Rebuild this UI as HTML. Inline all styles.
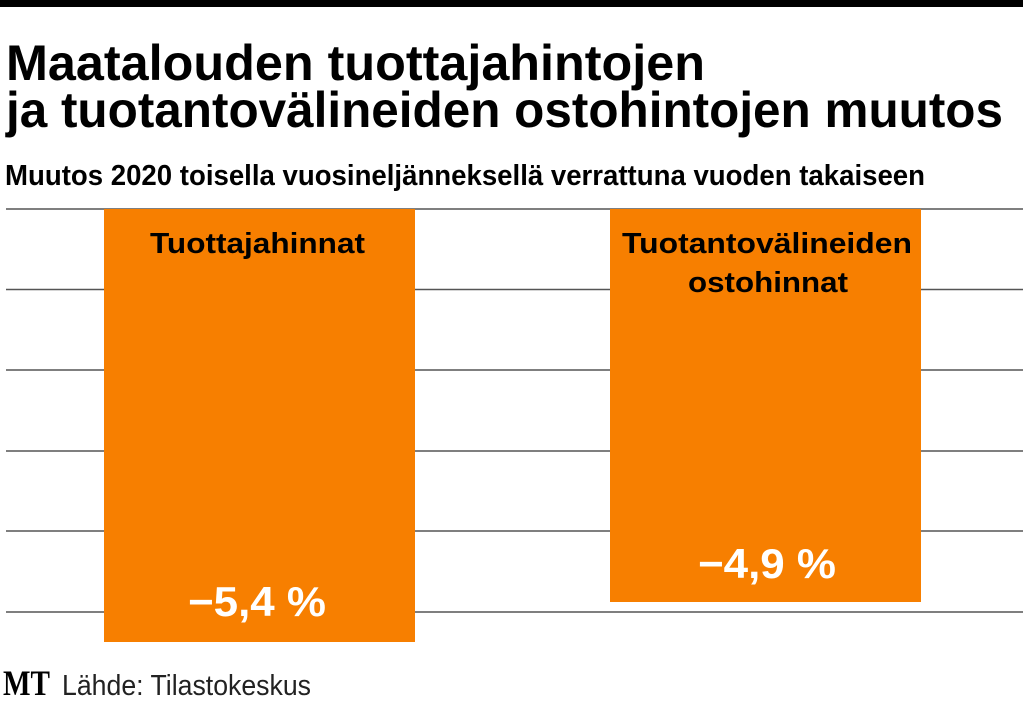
<!DOCTYPE html>
<html><head><meta charset="utf-8"><style>html,body{margin:0;padding:0;background:#fff}svg{display:block}</style></head><body>
<svg width="1023" height="702" xmlns="http://www.w3.org/2000/svg" font-family="Liberation Sans, sans-serif">
<rect x="0" y="0" width="1023" height="7" fill="#000"/>
<text x="6" y="80" font-size="50" font-weight="bold" textLength="699" lengthAdjust="spacingAndGlyphs">Maatalouden tuottajahintojen</text>
<text x="6" y="127" font-size="50" font-weight="bold" textLength="997" lengthAdjust="spacingAndGlyphs">ja tuotantovälineiden ostohintojen muutos</text>
<text x="5" y="185" font-size="29" font-weight="bold" textLength="920" lengthAdjust="spacingAndGlyphs">Muutos 2020 toisella vuosineljänneksellä verrattuna vuoden takaiseen</text>
<g stroke="#555" stroke-width="1.5">
<line x1="6" y1="209" x2="1023" y2="209"/>
<line x1="6" y1="289.5" x2="1023" y2="289.5"/>
<line x1="6" y1="370" x2="1023" y2="370"/>
<line x1="6" y1="451" x2="1023" y2="451"/>
<line x1="6" y1="531" x2="1023" y2="531"/>
<line x1="6" y1="612" x2="1023" y2="612"/>
</g>
<rect x="104" y="209" width="311" height="433" fill="#f77f00"/>
<rect x="610" y="209" width="311" height="393" fill="#f77f00"/>
<text x="150" y="253" font-size="29" font-weight="bold" textLength="215" lengthAdjust="spacingAndGlyphs">Tuottajahinnat</text>
<text x="622" y="253" font-size="29" font-weight="bold" textLength="290" lengthAdjust="spacingAndGlyphs">Tuotantovälineiden</text>
<text x="688" y="292" font-size="29" font-weight="bold" textLength="160" lengthAdjust="spacingAndGlyphs">ostohinnat</text>
<text x="188" y="616" font-size="42" font-weight="bold" fill="#fff" textLength="138" lengthAdjust="spacingAndGlyphs">−5,4 %</text>
<text x="698" y="578" font-size="42" font-weight="bold" fill="#fff" textLength="138" lengthAdjust="spacingAndGlyphs">−4,9 %</text>
<text x="3" y="695" font-size="36" font-weight="bold" font-family="Liberation Serif, serif" textLength="47" lengthAdjust="spacingAndGlyphs">MT</text>
<text x="62" y="695" font-size="29" fill="#222" textLength="249" lengthAdjust="spacingAndGlyphs">Lähde: Tilastokeskus</text>
</svg>
</body></html>
